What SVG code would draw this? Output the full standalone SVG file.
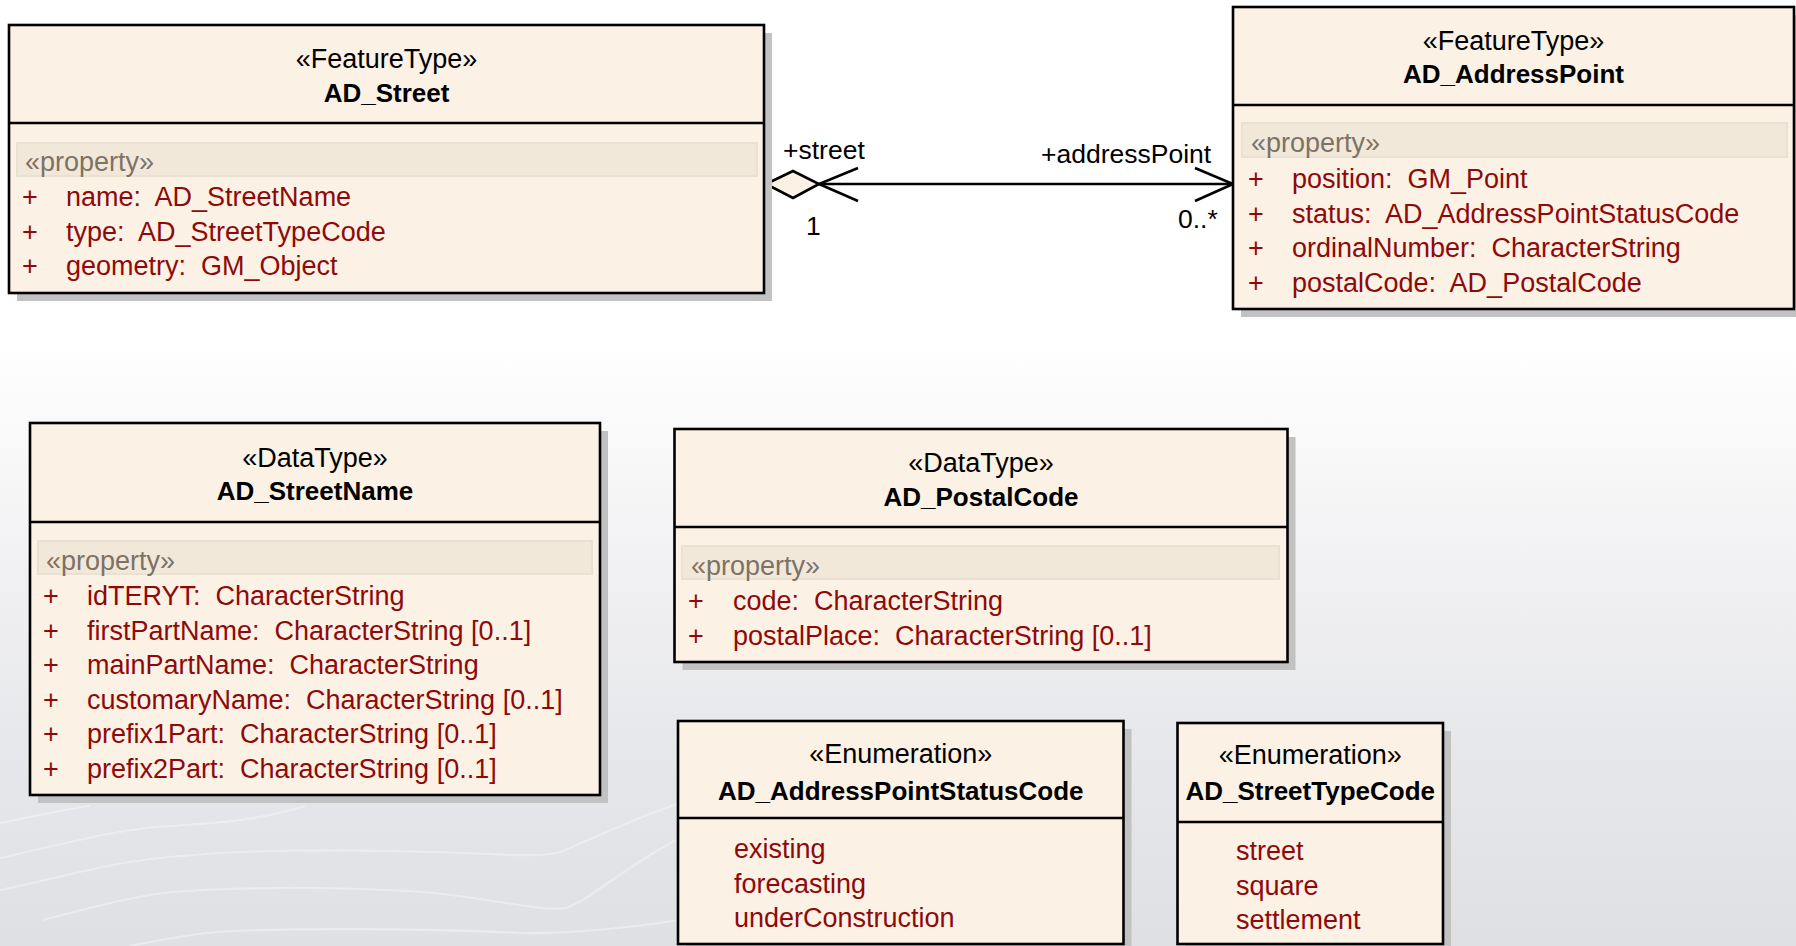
<svg xmlns="http://www.w3.org/2000/svg" width="1796" height="946" viewBox="0 0 1796 946">
<style>
text{font-family:"Liberation Sans",Arial,sans-serif;font-size:27px;white-space:pre}
.box{fill:#fbf1e4;stroke:#000;stroke-width:2.6}
.div{stroke:#000;stroke-width:2.6}
.sh{fill:#c2c2c2}
.band{fill:#f2e8da;stroke:#ebe1d3;stroke-width:2}
.st{fill:#000;text-anchor:middle}
.nm{fill:#000;text-anchor:middle;font-weight:bold;font-size:26px}
.pr{fill:#7d7266}
.at{fill:#8e0a0a}
.lb{fill:#000;font-size:26.5px}
.con{stroke:#000;stroke-width:2.6;fill:none}
.bgl{stroke:#f4f4f6;stroke-width:2.2;fill:none;opacity:0.55}
</style>
<defs>
<linearGradient id="bg" x1="0" y1="0" x2="0" y2="1">
<stop offset="0" stop-color="#ffffff"/>
<stop offset="0.36" stop-color="#ffffff"/>
<stop offset="0.6" stop-color="#f1f1f3"/>
<stop offset="0.8" stop-color="#e6e7ea"/>
<stop offset="1" stop-color="#dfe0e4"/>
</linearGradient>
</defs>
<rect x="0" y="0" width="1796" height="946" fill="url(#bg)"/>
<g id="background-lines">
<path class="bgl" d="M0,823 C40,815 70,808 90,806"/>
<path class="bgl" d="M0,858 C60,845 120,828 170,826 C220,823 260,820 305,806"/>
<path class="bgl" d="M0,890 C50,880 90,868 130,862 C200,851 300,848 434,852 C500,854 540,858 560,852 C590,840 630,820 680,803"/>
<path class="bgl" d="M43,920 C100,905 140,895 173,892 C230,887 350,886 434,893 C500,900 545,912 566,908 C590,900 620,870 676,840"/>
<path class="bgl" d="M130,946 C160,940 190,934 217,932 C280,928 420,928 520,933 C580,934 640,926 680,920"/>
</g>
<g id="connectors">
<line class="con" x1="819" y1="184" x2="1233" y2="184"/>
<polygon points="766,184 793,171 819,184 793,198" fill="#fbf1e4" stroke="#000" stroke-width="2.6"/>
<polyline class="con" points="858,168 819,184 858,201"/>
<polyline class="con" points="1195,168 1233,184 1195,201"/>
<text class="lb" x="783" y="159">+street</text>
<text class="lb" x="1041" y="163">+addressPoint</text>
<text class="lb" x="806" y="235">1</text>
<text class="lb" x="1178" y="228">0..*</text>
</g>
<g id="AD_Street">
<rect class="sh" x="17" y="33" width="755" height="268"/>
<rect class="box" x="9" y="25" width="755" height="268"/>
<line class="div" x1="9" y1="123" x2="764" y2="123"/>
<text class="st" x="386.5" y="68">«FeatureType»</text>
<text class="nm" x="386.5" y="102">AD_Street</text>
<rect class="band" x="17" y="143" width="740" height="33"/>
<text class="pr" x="25" y="171">«property»</text>
<text class="at" x="22" y="206">+</text><text class="at" x="66" y="206">name:  AD_StreetName</text>
<text class="at" x="22" y="240.5">+</text><text class="at" x="66" y="240.5">type:  AD_StreetTypeCode</text>
<text class="at" x="22" y="275">+</text><text class="at" x="66" y="275">geometry:  GM_Object</text>
</g>
<g id="AD_AddressPoint">
<rect class="sh" x="1241" y="15" width="561" height="302"/>
<rect class="box" x="1233" y="7" width="561" height="302"/>
<line class="div" x1="1233" y1="105" x2="1794" y2="105"/>
<text class="st" x="1513.5" y="50">«FeatureType»</text>
<text class="nm" x="1513.5" y="83">AD_AddressPoint</text>
<rect class="band" x="1242" y="123" width="545" height="34"/>
<text class="pr" x="1251" y="152">«property»</text>
<text class="at" x="1248" y="188">+</text><text class="at" x="1292" y="188">position:  GM_Point</text>
<text class="at" x="1248" y="222.5">+</text><text class="at" x="1292" y="222.5">status:  AD_AddressPointStatusCode</text>
<text class="at" x="1248" y="257">+</text><text class="at" x="1292" y="257">ordinalNumber:  CharacterString</text>
<text class="at" x="1248" y="291.5">+</text><text class="at" x="1292" y="291.5">postalCode:  AD_PostalCode</text>
</g>
<g id="AD_StreetName">
<rect class="sh" x="38" y="431" width="570" height="372"/>
<rect class="box" x="30" y="423" width="570" height="372"/>
<line class="div" x1="30" y1="522" x2="600" y2="522"/>
<text class="st" x="315" y="467">«DataType»</text>
<text class="nm" x="315" y="500">AD_StreetName</text>
<rect class="band" x="38" y="541" width="554" height="33"/>
<text class="pr" x="46" y="570">«property»</text>
<text class="at" x="43" y="605">+</text><text class="at" x="87" y="605">idTERYT:  CharacterString</text>
<text class="at" x="43" y="639.5">+</text><text class="at" x="87" y="639.5">firstPartName:  CharacterString [0..1]</text>
<text class="at" x="43" y="674">+</text><text class="at" x="87" y="674">mainPartName:  CharacterString</text>
<text class="at" x="43" y="708.5">+</text><text class="at" x="87" y="708.5">customaryName:  CharacterString [0..1]</text>
<text class="at" x="43" y="743">+</text><text class="at" x="87" y="743">prefix1Part:  CharacterString [0..1]</text>
<text class="at" x="43" y="777.5">+</text><text class="at" x="87" y="777.5">prefix2Part:  CharacterString [0..1]</text>
</g>
<g id="AD_PostalCode">
<rect class="sh" x="682.5" y="437" width="613" height="233"/>
<rect class="box" x="674.5" y="429" width="613" height="233"/>
<line class="div" x1="674.5" y1="527" x2="1287.5" y2="527"/>
<text class="st" x="981" y="472">«DataType»</text>
<text class="nm" x="981" y="506">AD_PostalCode</text>
<rect class="band" x="682" y="546" width="597" height="33"/>
<text class="pr" x="691" y="575">«property»</text>
<text class="at" x="688" y="610">+</text><text class="at" x="733" y="610">code:  CharacterString</text>
<text class="at" x="688" y="644.5">+</text><text class="at" x="733" y="644.5">postalPlace:  CharacterString [0..1]</text>
</g>
<g id="AD_AddressPointStatusCode">
<rect class="sh" x="686" y="729" width="445.5" height="230"/>
<rect class="box" x="678" y="721" width="445.5" height="223"/>
<line class="div" x1="678" y1="818" x2="1123.5" y2="818"/>
<text class="st" x="900.75" y="763">«Enumeration»</text>
<text class="nm" x="900.75" y="800">AD_AddressPointStatusCode</text>
<text class="at" x="734" y="858">existing</text>
<text class="at" x="734" y="892.5">forecasting</text>
<text class="at" x="734" y="927">underConstruction</text>
</g>
<g id="AD_StreetTypeCode">
<rect class="sh" x="1185.5" y="731" width="265.5" height="230"/>
<rect class="box" x="1177.5" y="723" width="265.5" height="221"/>
<line class="div" x1="1177.5" y1="822" x2="1443" y2="822"/>
<text class="st" x="1310.25" y="764">«Enumeration»</text>
<text class="nm" x="1310.25" y="800">AD_StreetTypeCode</text>
<text class="at" x="1236" y="860">street</text>
<text class="at" x="1236" y="894.5">square</text>
<text class="at" x="1236" y="929">settlement</text>
</g>
</svg>
